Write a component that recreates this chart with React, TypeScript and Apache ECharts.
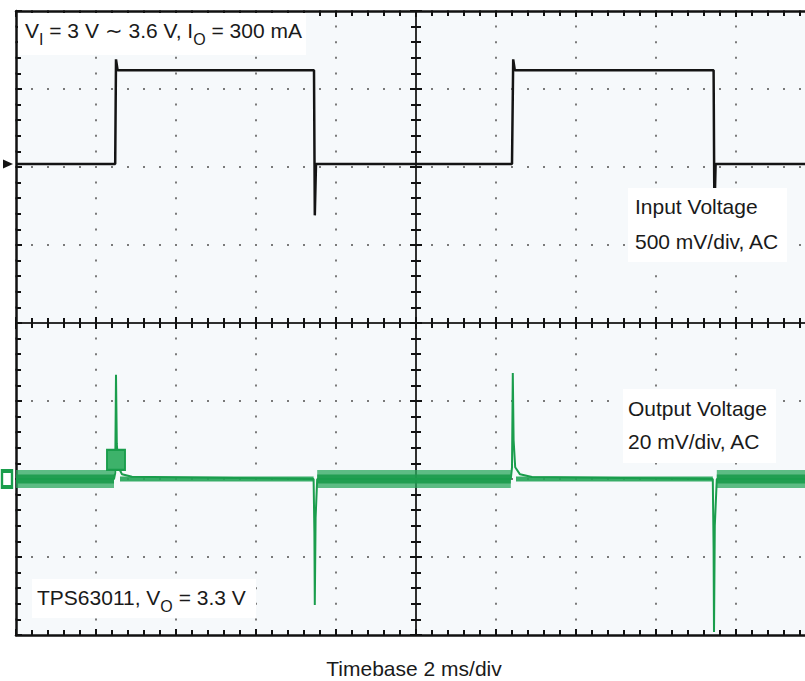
import React, { useEffect, useRef } from "react";
import * as echarts from "echarts";

// ---- Input voltage trace (V) vs time (ms) ----
const inputTimeMs = [0, 2.48, 2.5, 2.54, 7.45, 7.47, 7.5, 12.4, 12.43, 12.47, 17.44, 17.46, 17.49, 20];
const inputVolt = [3.0, 3.0, 3.67, 3.6, 3.6, 2.67, 3.0, 3.0, 3.67, 3.6, 3.6, 2.67, 3.0, 3.0];

// ---- Output voltage trace (mV, AC) vs time (ms) ----
const outputTimeMs = [0, 2.45, 2.48, 2.5, 2.52, 2.56, 2.65, 2.9, 7.44, 7.46, 7.47, 7.49, 7.53, 12.37, 12.4, 12.42, 12.44, 12.48, 12.6, 12.9, 17.42, 17.44, 17.45, 17.47, 17.52, 20];
const outputMv = [0, 0, 1.5, 26.7, 9, 3, 1.2, 0.6, 0, -14, -32.3, -10, 0, 0, 3, 27.2, 10, 3, 1.2, 0.5, 0, -18, -39.2, -12, 0, 0];

// Noisy (input low) and quiet (input high) stretches of the output trace
const noisyStartMs = [0, 7.53, 17.52];
const noisyEndMs = [2.45, 12.37, 20];
const quietStartMs = [2.6, 12.5];
const quietEndMs = [7.44, 17.42];

// Markers
const inputGround = [0, 3.0];
const outputGround = [0, 0];
const triggerMark = [2.5, 4.9];

const F = "'Liberation Sans', Arial, Helvetica, sans-serif";
const INK = "#1a1a1a";
const GREEN = "#1a9d4c";
const PLOT_BG = "#f6f9fb";

function segments(starts: number[], ends: number[]) {
  const d: any[] = [];
  starts.forEach((s, i) => {
    d.push([s, 0], [ends[i], 0], [ends[i], "-"]);
  });
  return d;
}

export default function App() {
  const ref = useRef<HTMLDivElement>(null);
  useEffect(() => {
    if (!ref.current) return;
    const chart = echarts.init(ref.current, undefined, { renderer: "svg" });
    const gratX = { type: "value", min: -5, max: 5, interval: 1, axisLabel: { show: false } };
    const gratY = { type: "value", min: -4, max: 4, interval: 1, axisLabel: { show: false } };
    const ticks = (inside: boolean) => ({
      axisTick: { show: true, inside, length: 6, lineStyle: { color: "#111111", width: 2 } },
      minorTick: { show: true, splitNumber: 5, length: 5, lineStyle: { color: "#111111", width: 2 } },
    });
    const borderLine = { show: true, onZero: false, lineStyle: { color: "#111111", width: 2.5 } };
    const centerLine = { show: true, onZero: false, lineStyle: { color: "#222222", width: 1.5 } };
    const dotted = (gap: number) => ({ show: true, lineStyle: { color: "#7a7a7a", width: 2, type: [2, gap], dashOffset: 1 } });
    chart.setOption({
      animation: false,
      backgroundColor: "#ffffff",
      grid: { left: 16, top: 11, width: 800, height: 624, show: true, outerBoundsMode: "none", backgroundColor: PLOT_BG, borderWidth: 0 },
      xAxis: [
        { ...gratX, position: "bottom", axisLine: borderLine, ...ticks(true), splitLine: dotted(13.6) },
        { ...gratX, position: "top", axisLine: borderLine, ...ticks(true), splitLine: { show: false } },
        { ...gratX, position: "bottom", offset: -312, axisLine: centerLine, ...ticks(false), splitLine: { show: false } },
        { ...gratX, position: "bottom", offset: -312, axisLine: centerLine, ...ticks(true), splitLine: { show: false } },
        { type: "value", min: 0, max: 20, show: false },
      ],
      yAxis: [
        { ...gratY, position: "left", axisLine: borderLine, ...ticks(true), splitLine: dotted(14) },
        { ...gratY, position: "left", offset: -400, axisLine: centerLine, ...ticks(false), splitLine: { show: false } },
        { ...gratY, position: "left", offset: -400, axisLine: centerLine, ...ticks(true), splitLine: { show: false } },
        { type: "value", min: -0.02, max: 3.98, show: false },
        { type: "value", min: -40, max: 120, show: false },
      ],
      series: [
        {
          name: "Output noise band", type: "line", xAxisIndex: 4, yAxisIndex: 4, symbol: "none", silent: true,
          data: segments(noisyStartMs, noisyEndMs), connectNulls: false,
          lineStyle: { color: "#2aa75c", width: 18, opacity: 0.75, cap: "butt" }, z: 3,
        },
        {
          name: "Output noise core", type: "line", xAxisIndex: 4, yAxisIndex: 4, symbol: "none", silent: true,
          data: segments(noisyStartMs, noisyEndMs), connectNulls: false,
          lineStyle: { color: "#1b9a4b", width: 9, opacity: 0.9, cap: "butt" }, z: 3,
        },
        {
          name: "Output quiet band", type: "line", xAxisIndex: 4, yAxisIndex: 4, symbol: "none", silent: true,
          data: segments(quietStartMs, quietEndMs), connectNulls: false,
          lineStyle: { color: "#24a457", width: 5, opacity: 0.9, cap: "butt" }, z: 3,
        },
        {
          name: "Output Voltage", type: "line", xAxisIndex: 4, yAxisIndex: 4, symbol: "none",
          data: outputTimeMs.map((t, i) => [t, outputMv[i]]),
          lineStyle: { color: GREEN, width: 2 }, z: 4,
          markPoint: {
            silent: true, label: { show: false },
            data: [
              { coord: outputGround, symbol: "rect", symbolSize: [10, 16], symbolOffset: [-9, 0],
                itemStyle: { color: "#ffffff", borderColor: GREEN, borderWidth: 3 } },
              { coord: triggerMark, symbol: "rect", symbolSize: [18, 20],
                itemStyle: { color: "#3db26a", borderColor: GREEN, borderWidth: 2 } },
            ],
          },
        },
        {
          name: "Input Voltage", type: "line", xAxisIndex: 4, yAxisIndex: 3, symbol: "none",
          data: inputTimeMs.map((t, i) => [t, inputVolt[i]]),
          lineStyle: { color: "#141414", width: 2.5 }, z: 5,
          markPoint: {
            silent: true, label: { show: false },
            data: [
              { coord: inputGround, symbol: "triangle", symbolSize: [9, 10], symbolRotate: -90, symbolOffset: [-8, 0],
                itemStyle: { color: "#141414" } },
            ],
          },
        },
      ],
      graphic: [
        // mask for the stray line along the picture's right edge (kept below the traces)
        { type: "rect", z: 1, shape: { x: 801, y: 18, width: 30, height: 302 }, style: { fill: PLOT_BG } },
        { type: "rect", z: 1, shape: { x: 801, y: 327, width: 30, height: 302 }, style: { fill: PLOT_BG } },
        { type: "rect", z: 100, shape: { x: 18, y: 13, width: 288, height: 42 }, style: { fill: "#ffffff" } },
        { type: "rect", z: 100, shape: { x: 628, y: 188, width: 159, height: 74 }, style: { fill: "#ffffff" } },
        { type: "rect", z: 100, shape: { x: 623, y: 389, width: 153, height: 74 }, style: { fill: "#ffffff" } },
        { type: "rect", z: 100, shape: { x: 32, y: 579, width: 224, height: 39 }, style: { fill: "#ffffff" } },
        {
          type: "text", z: 101, x: 25, y: 14,
          style: {
            text: "{a|V}{b|I}{a| = 3 V \u223C 3.6 V, I}{b|O}{a| = 300 mA}",
            verticalAlign: "top",
            rich: {
              a: { fontSize: 21, fontFamily: F, fill: INK },
              b: { fontSize: 16, fontFamily: F, fill: INK, padding: [17, 0, 0, 0] },
            },
          },
        },
        {
          type: "text", z: 101, x: 37, y: 581,
          style: {
            text: "{a|TPS63011, V}{b|O}{a| = 3.3 V}",
            verticalAlign: "top",
            rich: {
              a: { fontSize: 21, fontFamily: F, fill: INK },
              b: { fontSize: 16, fontFamily: F, fill: INK, padding: [17, 0, 0, 0] },
            },
          },
        },
        { type: "text", z: 101, x: 635, y: 206, style: { text: "Input Voltage", font: `21px ${F}`, fill: INK, verticalAlign: "middle" } },
        { type: "text", z: 101, x: 635, y: 241, style: { text: "500 mV/div, AC", font: `21px ${F}`, fill: INK, verticalAlign: "middle" } },
        { type: "text", z: 101, x: 628, y: 408, style: { text: "Output Voltage", font: `21px ${F}`, fill: INK, verticalAlign: "middle" } },
        { type: "text", z: 101, x: 628, y: 441, style: { text: "20 mV/div, AC", font: `21px ${F}`, fill: INK, verticalAlign: "middle" } },
        { type: "text", z: 101, x: 414, y: 668, style: { text: "Timebase 2 ms/div", font: `21px ${F}`, fill: INK, align: "center", verticalAlign: "middle" } },
      ],
    });
    return () => chart.dispose();
  }, []);
  return (
    <div style={{ position: "absolute", left: 0, top: 0, width: 805, height: 681, overflow: "hidden" }}>
      <div ref={ref} style={{ width: 830, height: 681 }} />
    </div>
  );
}
